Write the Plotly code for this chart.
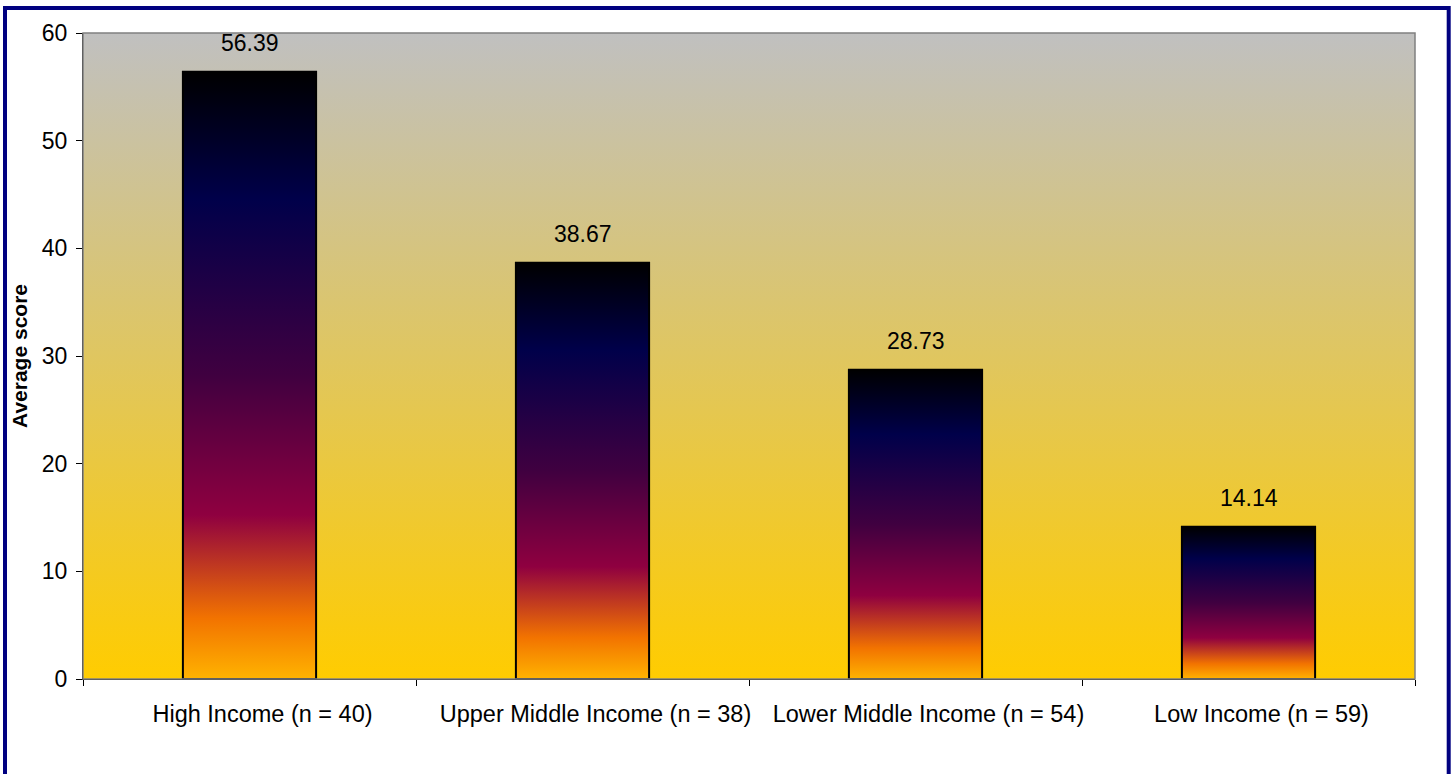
import plotly.graph_objects as go

categories = ["High Income (n = 40)", "Upper Middle Income (n = 38)",
              "Lower Middle Income (n = 54)", "Low Income (n = 59)"]
scores = [56.39, 38.67, 28.73, 14.14]
y_ticks = [0, 10, 20, 30, 40, 50, 60]

FONT = "Arial, 'Liberation Sans', sans-serif"
BAR_HALF = 0.2
bar_scale = [[0.0, "#FFB300"], [0.10, "#F27300"], [0.27, "#8F0040"],
             [0.5, "#400040"], [0.79, "#00004A"], [1.0, "#000000"]]
bg_scale = [[0.0, "#FFCC00"], [1.0, "#C0C0C0"]]

fig = go.Figure()

# plot-area gradient background
n = len(categories)
fig.add_trace(go.Scatter(
    x=[-0.5, n - 0.5, n - 0.5, -0.5, -0.5],
    y=[0, 0, y_ticks[-1], y_ticks[-1], 0],
    mode="lines", line=dict(width=0), fill="toself",
    fillgradient=dict(type="vertical", colorscale=bg_scale, start=0, stop=y_ticks[-1]),
    hoverinfo="skip", showlegend=False))

for i, v in enumerate(scores):
    fig.add_trace(go.Scatter(
        x=[i - BAR_HALF, i + BAR_HALF, i + BAR_HALF, i - BAR_HALF, i - BAR_HALF],
        y=[0, 0, v, v, 0],
        mode="lines", line=dict(color="#000000", width=2), fill="toself",
        fillgradient=dict(type="vertical", colorscale=bar_scale, start=0, stop=v),
        hoverinfo="skip", showlegend=False))
    fig.add_annotation(x=i, y=v, text=f"{v:.2f}", showarrow=False,
                       yanchor="bottom", yshift=14,
                       font=dict(family=FONT, size=23, color="#000000"))

W, H = 1453, 774
L, R, T, B = 83, 38, 33, 95
pw, ph = W - L - R, H - T - B

fig.update_layout(
    width=W, height=H,
    margin=dict(l=L, r=R, t=T, b=B),
    paper_bgcolor="#FFFFFF", plot_bgcolor="#FFFFFF",
    font=dict(family=FONT, size=23, color="#000000"),
    xaxis=dict(range=[-0.5, n - 0.5], tickvals=list(range(n)), ticktext=categories,
               ticks="", showgrid=False, zeroline=False,
               showline=True, linecolor="#000000", linewidth=1,
               ticklabelstandoff=14, ticklabelshift=13,
               minor=dict(tickvals=[k - 0.5 for k in range(n + 1)], ticks="outside",
                          ticklen=6, tickcolor="#000000", tickwidth=1, showgrid=False),
               tickfont=dict(size=23.5)),
    yaxis=dict(range=[0, y_ticks[-1]], tickvals=y_ticks, ticks="outside", ticklen=6,
               tickcolor="#000000", showgrid=False, zeroline=False,
               showline=True, linecolor="#000000", linewidth=1,
               tickfont=dict(size=23), ticklabelstandoff=4,
               title=dict(text="<b>Average score</b>", font=dict(size=21), standoff=8)),
    shapes=[
        dict(type="rect", xref="x domain", yref="y domain", x0=0, x1=1, y0=0, y1=1,
             line=dict(color="#808080", width=1.5), layer="above"),
        dict(type="rect", xref="paper", yref="paper",
             x0=(5 - L) / pw, x1=(1448.7 - L) / pw,
             y0=(H - B - 800) / ph, y1=(H - B - 8) / ph,
             line=dict(color="#000080", width=4)),
    ],
)

fig.write_html("out.html", config={"displayModeBar": False},
               post_script="document.body.style.margin='0';document.body.style.overflow='hidden';")
